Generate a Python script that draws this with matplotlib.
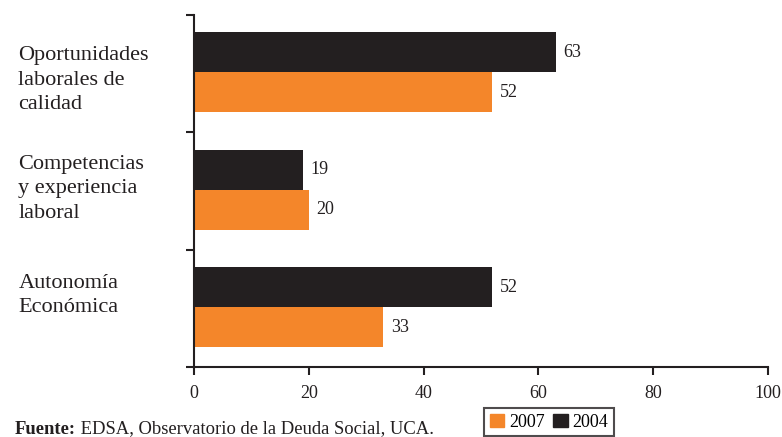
import matplotlib.pyplot as plt
import matplotlib.transforms as mtransforms
from matplotlib.patches import Patch

plt.rcParams["font.family"] = ["Liberation Serif", "DejaVu Serif"]

categorias = ["Oportunidades\nlaborales de\ncalidad",
              "Competencias\ny experiencia\nlaboral",
              "Autonomía\nEconómica"]
valores_2004 = [63, 19, 52]
valores_2007 = [52, 20, 33]

color_2007 = "#F4862A"
color_2004 = "#231F20"

fig = plt.figure(figsize=(7.82, 4.37), dpi=100)
ax = fig.add_axes([0.248, 0.160, 0.734, 0.806])

n = len(categorias)
h = 0.34
centros = [n - 1 - i + 0.5 for i in range(n)]
y04 = [c + h / 2 + 0.01 for c in centros]
y07 = [c - h / 2 + 0.01 for c in centros]

ax.barh(y04, valores_2004, height=h, color=color_2004)
ax.barh(y07, valores_2007, height=h, color=color_2007)

for y, v in zip(y04, valores_2004):
    ax.text(v + 1.3, y, str(v), va="center", ha="left", fontsize=13, color="#231F20")
for y, v in zip(y07, valores_2007):
    ax.text(v + 1.3, y, str(v), va="center", ha="left", fontsize=13, color="#231F20")

# etiquetas de categoría alineadas a la izquierda
trans = mtransforms.blended_transform_factory(ax.transAxes, ax.transData)
ajuste = [-0.055, 0.02, 0.11]
for c, lab, a in zip(centros, categorias, ajuste):
    ax.text(-0.306, c + a, lab, transform=trans, ha="left", va="center",
            fontsize=16, linespacing=1.39, color="#231F20")

ax.set_xlim(0, 100)
ax.set_ylim(0, n)
ax.set_xticks(range(0, 101, 20))
ax.set_yticks(range(0, n + 1))
ax.set_yticklabels([])
ax.tick_params(axis="x", direction="out", length=6, width=1.5, labelsize=13,
               pad=7, colors="#231F20")
ax.tick_params(axis="y", direction="out", length=6, width=1.5, colors="#231F20")
for s in ["top", "right"]:
    ax.spines[s].set_visible(False)
for s in ["left", "bottom"]:
    ax.spines[s].set_linewidth(1.5)
    ax.spines[s].set_color("#231F20")

handles = [Patch(color=color_2007, label="2007"), Patch(color=color_2004, label="2004")]
leg = fig.legend(handles=handles, loc="upper center", bbox_to_anchor=(0.702, 0.066),
                 ncol=2, frameon=True, fancybox=False, fontsize=13,
                 handlelength=0.8, handleheight=0.8, handletextpad=0.25,
                 columnspacing=0.5, borderpad=0.3, borderaxespad=0)
leg.get_frame().set_edgecolor("#231F20")
leg.get_frame().set_linewidth(1.5)

t1 = fig.text(0.019, 0.008, "Fuente:", fontsize=13.4, fontweight="bold", color="#231F20")
ax.annotate(" EDSA, Observatorio de la Deuda Social, UCA.", xy=(1, 0), xycoords=t1,
            va="bottom", ha="left", fontsize=13.4, color="#231F20",
            annotation_clip=False)

fig.savefig("out.png", dpi=100)
